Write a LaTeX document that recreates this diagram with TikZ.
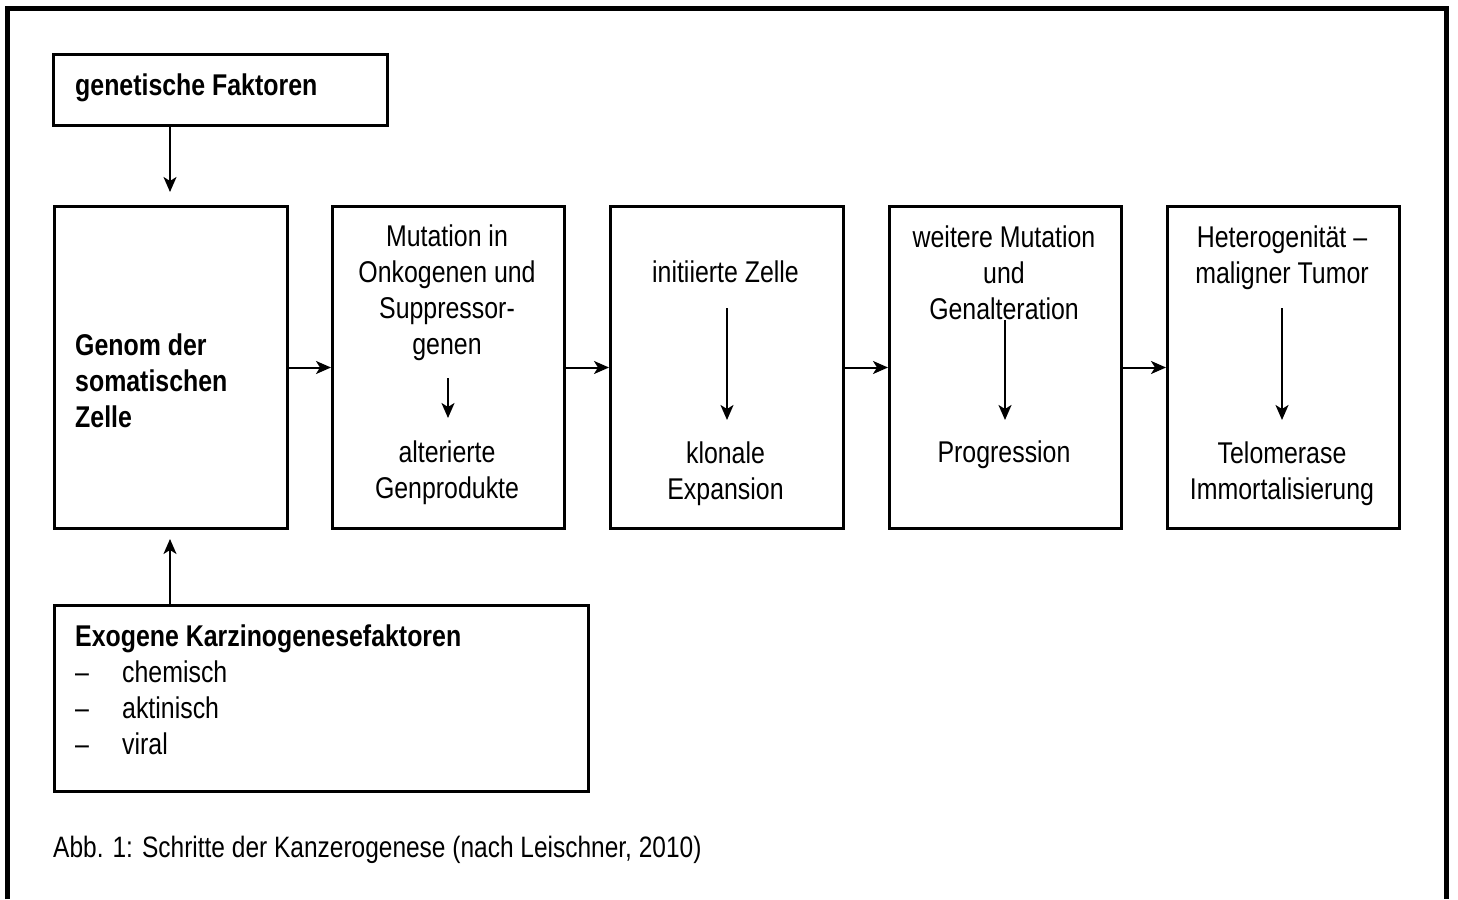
\documentclass[tikz,border=0pt]{standalone}
\usepackage{fontspec}
\setmainfont{Liberation Sans}[FakeStretch=0.83]
\usetikzlibrary{arrows.meta}
\begin{document}
\begin{tikzpicture}[x=1pt,y=-1pt,
  box/.style={draw, line width=3pt, rectangle, inner sep=0pt, anchor=north west},
  txt/.style={font=\fontsize{30}{36}\selectfont, inner sep=0pt, align=center},
  ltxt/.style={font=\fontsize{30}{36}\selectfont, inner sep=0pt, align=left, anchor=west},
  arr/.style={line width=2pt, -{Stealth[length=15pt,width=13pt,inset=4pt]}}]
\useasboundingbox (0,0) rectangle (1458,899);
% outer frame
\draw[line width=5pt, line join=miter] (7.5,899) -- (7.5,8.5) -- (1446,8.5) -- (1446,899);
% boxes
\node[box, minimum width=334pt, minimum height=71pt] (gen) at (52,53) {};
\node[box, minimum width=233pt, minimum height=322pt] (b1) at (53,205) {};
\node[box, minimum width=232pt, minimum height=322pt] (b2) at (331,205) {};
\node[box, minimum width=233pt, minimum height=322pt] (b3) at (609,205) {};
\node[box, minimum width=232pt, minimum height=322pt] (b4) at (888,205) {};
\node[box, minimum width=232pt, minimum height=322pt] (b5) at (1166,205) {};
\node[box, minimum width=534pt, minimum height=186pt] (exo) at (53,604) {};
% texts
\node[ltxt] (tgen) at (75,88) {\textbf{genetische Faktoren}};
\node[ltxt] (tb1) at (75,380.5) {\textbf{Genom der}\\\textbf{somatischen}\\\textbf{Zelle}};
\node[txt] (tb2a) at (447,293) {Mutation in\\Onkogenen und\\Suppressor-\\genen};
\node[txt] (tb2b) at (447,473) {alterierte\\Genprodukte};
\node[txt] (tb3a) at (725.5,272) {initiierte Zelle};
\node[txt] (tb3b) at (725.5,473.5) {klonale\\Expansion};
\node[txt] (tb4a) at (1004,272.5) {weitere Mutation\\und\\Genalteration};
\node[txt] (tb4b) at (1004,455) {Progression};
\node[txt] (tb5a) at (1282,257.5) {Heterogenität –\\maligner Tumor};
\node[txt] (tb5b) at (1282,473.5) {Telomerase\\Immortalisierung};
\node[ltxt] (texo) at (75,689.5) {\textbf{Exogene Karzinogenesefaktoren}\\\makebox[47pt][l]{–}chemisch\\\makebox[47pt][l]{–}aktinisch\\\makebox[47pt][l]{–}viral};
\node[ltxt, font=\fontsize{29.5}{36}\selectfont] (cap) at (53,850) {Abb. 1: Schritte der Kanzerogenese (nach Leischner, 2010)};
% connector coordinates
\coordinate (g1) at (170,192);
\coordinate (e1) at (170,539);
\coordinate (a2s) at (448,378); \coordinate (a2e) at (448,418);
\coordinate (a3s) at (727,308); \coordinate (a3e) at (727,420);
\coordinate (a4s) at (1005,320); \coordinate (a4e) at (1005,420);
\coordinate (a5s) at (1282,308); \coordinate (a5e) at (1282,420);
% connectors
\draw[arr] (gen.south -| g1) -- (g1);
\draw[arr] (exo.north -| e1) -- (e1);
\draw[arr] (b1.east) -- (b2.west);
\draw[arr] (b2.east) -- (b3.west);
\draw[arr] (b3.east) -- (b4.west);
\draw[arr] (b4.east) -- (b5.west);
\draw[arr] (a2s) -- (a2e);
\draw[arr] (a3s) -- (a3e);
\draw[arr] (a4s) -- (a4e);
\draw[arr] (a5s) -- (a5e);
\end{tikzpicture}
\end{document}
